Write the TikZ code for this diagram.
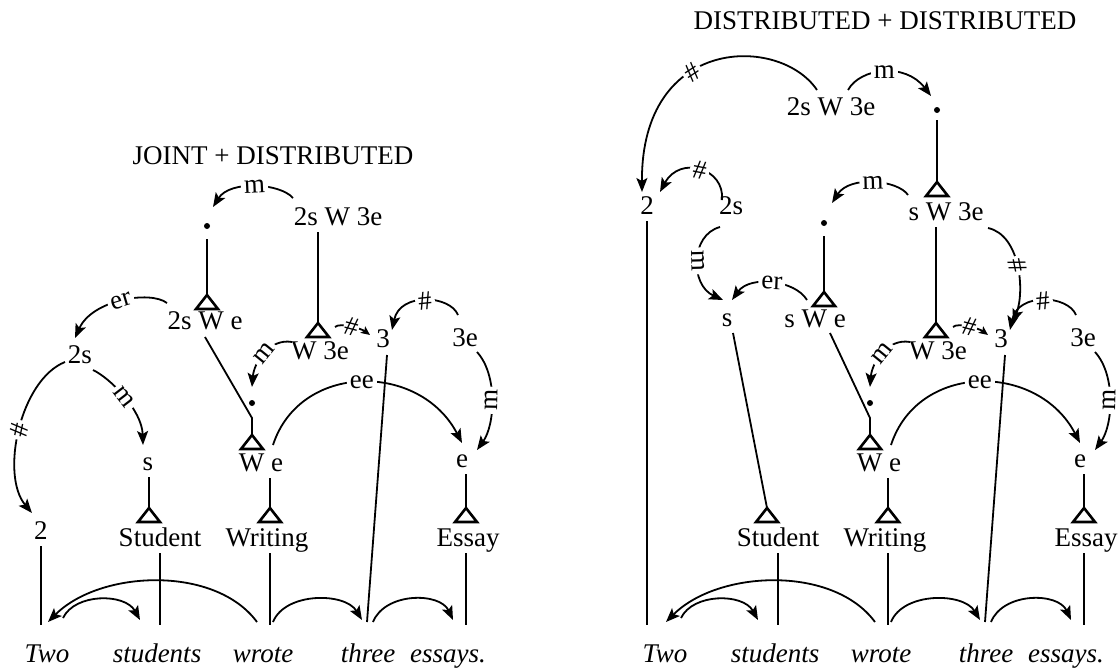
\documentclass[tikz,border=0pt]{standalone}
\usepackage{fontspec}
\setmainfont{Liberation Serif}
\usetikzlibrary{arrows.meta,calc}

\newcommand{\labelfont}{\fontsize{13.5}{16}\selectfont}

\tikzset{
  lbl/.style={inner sep=3pt,text height=0.68em,text depth=0pt},
  wordnode/.style={lbl,font=\labelfont\itshape},
  dotnode/.style={circle,fill,inner sep=0pt,minimum size=3pt},
  tribox/.style={line width=1.3pt,line join=miter},
  link/.style={line width=0.9pt},
  arr/.style={line width=0.9pt,-{Stealth[length=7pt,width=5.5pt,inset=1.5pt]}},
  arrsmall/.style={line width=0.9pt,-{Stealth[length=4.5pt,width=4pt,inset=1pt]}},
  edgetag/.style={fill=white,inner sep=1.5pt,sloped,midway},
}

% open triangle hanging below an apex coordinate
\newcommand{\triangleat}[1]{\draw[tribox] (#1) -- ++(-11,14) -- ++(22,0) -- cycle;}

% nouns, verb and sentence: the same in both readings
\newcommand{\sharedtree}{%
  \coordinate (ground) at (0,625);
  \coordinate (tW3e) at (318,323);
  \coordinate (tWe) at (252,435);
  \coordinate (tStud) at (149,508);
  \coordinate (tWrit) at (270,508);
  \coordinate (tEss) at (466,508);
  \node[lbl] (W3e) at (320,353) {W 3e};
  \node[lbl] (n3) at (383,341) {3};
  \node[lbl] (n3e) at (465,340) {3e};
  \node[dotnode] (dotW) at (252,403) {};
  \node[lbl] (We) at (261,465) {W e};
  \node[lbl] (ne) at (462,461) {e};
  \node[lbl] (student) at (160,540) {Student};
  \node[lbl] (writing) at (267,540) {Writing};
  \node[lbl] (essay) at (468,540) {Essay};
  \node[wordnode] (wTwo) at (47,656) {Two};
  \node[wordnode] (wStudents) at (157,656) {students};
  \node[wordnode] (wWrote) at (263,656) {wrote};
  \node[wordnode] (wThree) at (368,656) {three};
  \node[wordnode] (wEssays) at (448,656) {essays.};
  \foreach \apex in {tW3e,tWe,tStud,tWrit,tEss} {\triangleat{\apex}}
  \draw[link] (tWrit |- We.south) -- (tWrit);
  \draw[link] (tEss |- ne.south) -- (tEss);
  \draw[link] (student.south) -- (student |- ground);
  \draw[link] (tWrit |- writing.south) -- (tWrit |- ground);
  \draw[link] (tEss |- essay.south) -- (tEss |- ground);
  \draw[link] ($(n3)+(4,14)$) -- ($(wThree)+(-1,-34)$);
  \draw[arrsmall] ($(tW3e)+(17,4)$) .. controls +(5,-5) and +(-8,-6) .. ($(n3)+(-13,-6)$) node[edgetag,inner sep=0.5pt] {\#};
  \draw[arr] ($(n3e)+(-7,-25)$) .. controls +(-8,-20) and +(8,-38) .. ($(n3)+(9,-11)$) node[edgetag] {\#};
  \draw[arr] ($(n3e)+(12,12)$) .. controls +(21,23) and +(18,-25) .. ($(ne)+(15,-11)$) node[edgetag] {m};
  \draw[arr] ($(We)+(12,-20)$) .. controls +(27,-83) and +(-42,-81) .. ($(ne)+(0,-18)$) node[edgetag] {ee};
  \draw[arr] ($(W3e)+(-28,-11)$) .. controls +(-22,-4) and +(2,-25) .. ($(dotW)+(0,-16)$) node[edgetag] {m};
  % arcs over the sentence
  \draw[arr] ($(wWrote)+(-6,-34)$) .. controls +(-42,-57) and +(52,-52) .. ($(wTwo)+(1,-34)$);
  \draw[arr] ($(wTwo)+(16,-38)$) .. controls +(12,-25) and +(-15,-27) .. ($(wStudents)+(-17,-36)$);
  \draw[arr] ($(wWrote)+(10,-34)$) .. controls +(12,-30) and +(-17,-28) .. ($(wThree)+(-6,-36)$);
  \draw[arr] ($(wThree)+(5,-34)$) .. controls +(12,-30) and +(-13,-28) .. ($(wEssays)+(5,-36)$);
}

\begin{document}
\begin{tikzpicture}[x=0.5pt,y=-0.5pt,font=\labelfont]
  \useasboundingbox (0,0) rectangle (1119,669);

  % joint reading
  \begin{scope}[name prefix=L-]
    \sharedtree
    \node (title) at (273,156) {JOINT + DISTRIBUTED};
    \node[lbl] (top) at (338,219) {2s W 3e};
    \node[dotnode] (dot) at (207,226) {};
    \coordinate (tSwe) at (207,295);
    \node[lbl] (swe) at (205,323) {2s W e};
    \node[lbl] (twoS) at (80,357) {2s};
    \node[lbl] (s) at (148,464) {s};
    \node[lbl] (two) at (41,533) {2};
    \triangleat{tSwe}
    \draw[link,shorten <=5pt] (dot) -- (tSwe);
    \draw[link] (tW3e |- top.south) -- (tW3e);
    \draw[link] ($(swe)+(0,14)$) -- ($(tWe)+(0,-17)$) -- (tWe);
    \draw[link] (tStud |- s.south) -- (tStud);
    \draw[link] (two.south) -- (two |- ground);
    \draw[arr] ($(top)+(-45,-21)$) .. controls +(-13,-15) and +(17,-27) .. ($(dot)+(6,-19)$) node[edgetag] {m};
    \draw[arr] ($(swe)+(-38,-20)$) .. controls +(-17,-13) and +(17,-38) .. ($(twoS)+(-5,-19)$) node[edgetag] {er};
    \draw[arr] ($(twoS)+(-15,5)$) .. controls +(-45,18) and +(-32,-38) .. ($(two)+(-9,-20)$) node[edgetag] {\#};
    \draw[arr] ($(twoS)+(13,13)$) .. controls +(17,8) and +(-1,-35) .. ($(s)+(-5,-19)$) node[edgetag] {m};
  \end{scope}

  % distributed reading
  \begin{scope}[xshift=309pt,name prefix=R-]
    \sharedtree
    \node (title) at (267,21) {DISTRIBUTED + DISTRIBUTED};
    \node[lbl] (top) at (213,109) {2s W 3e};
    \node[dotnode] (dot) at (319,110) {};
    \coordinate (tSw) at (319,182);
    \node[lbl] (sw) at (328,214) {s W 3e};
    \node[dotnode] (dots) at (206,223) {};
    \coordinate (tSwe) at (206,292);
    \node[lbl] (swe) at (197,321) {s W e};
    \node[lbl] (two) at (29,208) {2};
    \node[lbl] (twoS) at (113,208) {2s};
    \node[lbl] (s) at (109,320) {s};
    \triangleat{tSw}
    \triangleat{tSwe}
    \draw[link,shorten <=3.5pt] (dot) -- (tSw);
    \draw[link] (tW3e |- sw.south) -- (tW3e);
    \draw[link,shorten <=5pt] (dots) -- (tSwe);
    \draw[link] ($(s)+(6,13)$) -- (tStud);
    \draw[link] ($(swe)+(15,12)$) -- ($(tWe)+(0,-17)$) -- (tWe);
    \draw[link] (two.south) -- (two |- ground);
    \draw[arr] ($(top)+(-14,-19)$) .. controls +(-37,-55) and +(-1,-157) .. ($(two)+(-5,-16)$) node[edgetag,pos=0.6] {\#};
    \draw[arr] ($(top)+(17,-19)$) .. controls +(12,-22) and +(-26,-34) .. ($(dot)+(-6,-14)$) node[edgetag] {m};
    \draw[arr] ($(sw)+(-38,-19)$) .. controls +(-10,-15) and +(18,-28) .. ($(dots)+(8,-20)$) node[edgetag] {m};
    \draw[arr] ($(sw)+(42,14)$) .. controls +(32,7) and +(12,-33) .. ($(n3)+(12,-18)$) node[edgetag] {\#};
    \draw[arr] ($(swe)+(-8,-21)$) .. controls +(-12,-20) and +(18,-25) .. ($(s)+(5,-20)$) node[edgetag] {er};
    \draw[arr] ($(twoS)+(-9,-8)$) .. controls +(3,-32) and +(20,-37) .. ($(two)+(13,-16)$) node[edgetag] {\#};
    \draw[arr] ($(twoS)+(-11,19)$) .. controls +(-30,8) and +(-33,-15) .. ($(s)+(-4,-20)$) node[edgetag] {m};
  \end{scope}
\end{tikzpicture}
\end{document}
